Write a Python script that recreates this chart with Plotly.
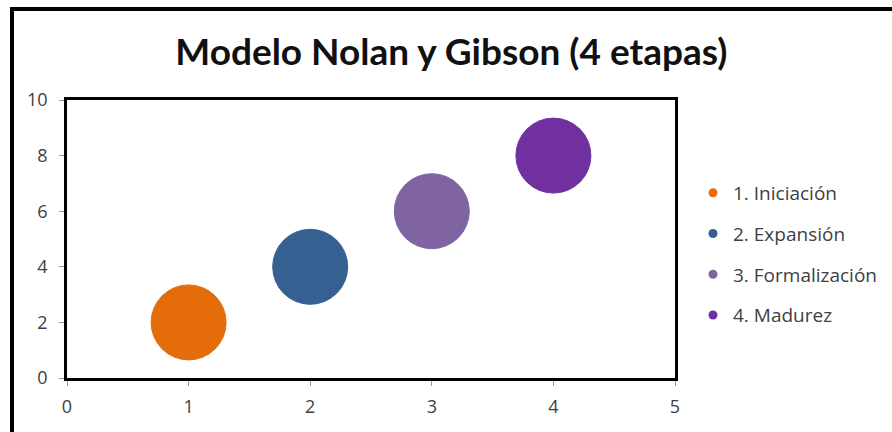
import plotly.graph_objects as go

stages = ["1. Iniciación", "2. Expansión", "3. Formalización", "4. Madurez"]
x_vals = [1, 2, 3, 4]
y_vals = [2, 4, 6, 8]
bubble_size = [1, 1, 1, 1]
colors = ["#E46C0A", "#376092", "#8064A2", "#7030A0"]
x_ticks = [0, 1, 2, 3, 4, 5]
y_ticks = [0, 2, 4, 6, 8, 10]

L, R, T, B = 67, 217, 100, 54
W, H = 892, 432
pw, ph = W - L - R, H - T - B

fig = go.Figure()
for name, xv, yv, s, c in zip(stages, x_vals, y_vals, bubble_size, colors):
    fig.add_trace(go.Scatter(
        x=[xv], y=[yv], mode="markers", showlegend=False, name=name,
        marker=dict(size=[s], sizemode="diameter", sizeref=1 / 75, color=c,
                    opacity=1, line=dict(color=c, width=1)),
    ))
for i, (name, c) in enumerate(zip(stages, colors)):
    fig.add_trace(go.Scatter(
        x=[None], y=[None], mode="markers", name=name, legendgroup=str(i),
        marker=dict(size=9, color=c, opacity=1),
    ))

tickfont = dict(family="Open Sans", size=18, color="#404040")
fig.update_layout(
    width=W, height=H,
    margin=dict(l=L, r=R, t=T, b=B, autoexpand=False),
    paper_bgcolor="white", plot_bgcolor="white",
    font=dict(family="Open Sans", size=18, color="#404040"),
    title=dict(text="<b>Modelo Nolan y Gibson (4 etapas)</b>",
               font=dict(family="Lato", size=37, color="#111111"),
               x=0.506, xanchor="center", y=1 - 52 / H, yanchor="middle"),
    xaxis=dict(range=[0, 5], tickvals=x_ticks, showgrid=False, zeroline=False,
               showline=True, linecolor="black", linewidth=2.5, mirror=True,
               ticks="outside", ticklen=5, tickcolor="#999", tickwidth=1,
               ticklabelstandoff=6, tickfont=tickfont),
    yaxis=dict(range=[0, 10], tickvals=y_ticks, showgrid=False, zeroline=False,
               showline=True, linecolor="black", linewidth=2.5, mirror=True,
               ticks="outside", ticklen=5, tickcolor="#999", tickwidth=1,
               ticklabelstandoff=8, tickfont=tickfont),
    legend=dict(x=(693 - L) / pw, xanchor="left", y=(H - B - 174) / ph, yanchor="top",
                font=dict(family="Open Sans", size=19, color="#404040"), tracegroupgap=13,
                itemwidth=30, bgcolor="rgba(0,0,0,0)"),
    shapes=[
        dict(type="line", xref="paper", yref="paper",
             x0=(10 - L) / pw, x1=(W + 10 - L) / pw,
             y0=(H - B - 9) / ph, y1=(H - B - 9) / ph,
             line=dict(color="black", width=4)),
        dict(type="line", xref="paper", yref="paper",
             x0=(12 - L) / pw, x1=(12 - L) / pw,
             y0=(H - B - 7) / ph, y1=(H - B - H - 10) / ph,
             line=dict(color="black", width=4)),
    ],
)

fig.write_html("out.html")
